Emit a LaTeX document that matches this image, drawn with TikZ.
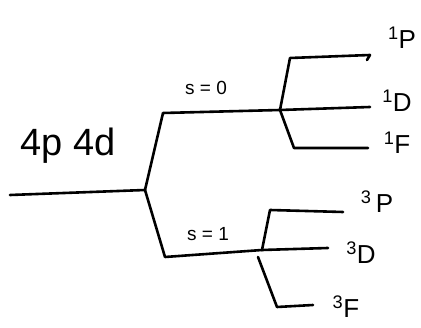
\documentclass[tikz,border=0pt]{standalone}
\usepackage{fontspec}
\setmainfont{Liberation Sans}
\begin{document}
\begin{tikzpicture}[x=1pt,y=-1pt,
  lvl/.style={line width=2.6pt, line join=round, line cap=round, black},
  term/.style={inner sep=0pt, font=\fontsize{26}{28}\selectfont},
  spin/.style={inner sep=0pt, font=\fontsize{19}{21}\selectfont},
  conf/.style={inner sep=0pt, font=\fontsize{38}{40}\selectfont}]
\useasboundingbox (0,0) rectangle (421,328);
% branch points and ends
\coordinate (start) at (10,195);
\coordinate (A) at (145,190);
\coordinate (Au) at (163,113);
\coordinate (B) at (280,110);
\coordinate (Ad) at (165,257);
\coordinate (C) at (262,250);
\coordinate (Bu) at (290,58);
\coordinate (P1) at (370,55);
\coordinate (P1h) at (367,60);
\coordinate (D1) at (370,107);
\coordinate (Bd) at (294,148);
\coordinate (F1) at (368,148);
\coordinate (Cu) at (270,210);
\coordinate (P3) at (343,212);
\coordinate (D3) at (328,248);
\coordinate (Cd0) at (258,257);
\coordinate (Cd) at (277,307);
\coordinate (F3) at (313,305);
% lines
\draw[lvl] (start) -- (A);
\draw[lvl] (A) -- (Au) -- (B);
\draw[lvl] (A) -- (Ad) -- (C);
\draw[lvl] (B) -- (Bu) -- (P1) -- (P1h);
\draw[lvl] (B) -- (D1);
\draw[lvl] (B) -- (Bd) -- (F1);
\draw[lvl] (C) -- (Cu) -- (P3);
\draw[lvl] (C) -- (D3);
\draw[lvl] (Cd0) -- (Cd) -- (F3);
% labels
\node[conf] (cfg) at (68,146) {4p 4d};
\node[spin] (s0) at (206,88) {s = 0};
\node[spin] (s1) at (208,234) {s = 1};
\node[term] (l1P) at (402,38) {\textsuperscript{1}P};
\node[term] (l1D) at (397,101) {\textsuperscript{1}D};
\node[term] (l1F) at (397,143) {\textsuperscript{1}F};
\node[term] (l3P) at (377,202) {\textsuperscript{3}\,P};
\node[term] (l3D) at (361,253) {\textsuperscript{3}D};
\node[term] (l3F) at (346,307) {\textsuperscript{3}F};
\end{tikzpicture}
\end{document}
